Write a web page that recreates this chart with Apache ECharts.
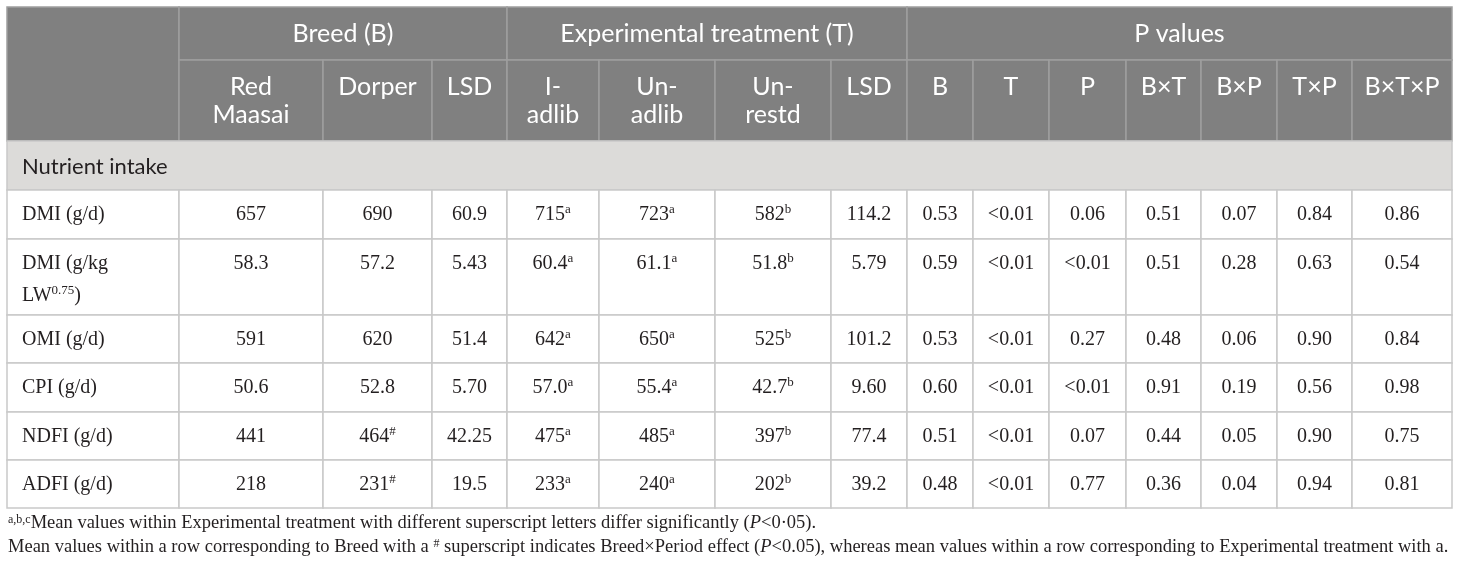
<!DOCTYPE html>
<html>
<head>
<meta charset="utf-8">
<style>
  html, body { margin: 0; padding: 0; background: #fff; }
  #main { width: 1460px; height: 570px; }
</style>
<script src="https://cdn.jsdelivr.net/npm/echarts@6/dist/echarts.min.js"></script>
</head>
<body>
<div id="main"></div>
<script>
// ---- table content ----
var groupHeads = ['Breed (B)', 'Experimental treatment (T)', 'P values']
var subHeads = ['Red\nMaasai', 'Dorper', 'LSD', 'I-\nadlib', 'Un-\nadlib', 'Un-\nrestd', 'LSD',
  'B', 'T', 'P', 'B×T', 'B×P', 'T×P', 'B×T×P']
var sectionName = 'Nutrient intake'
var rowLabels = ['DMI (g/d)', 'DMI (g/kg\nLW{sup|0.75})', 'OMI (g/d)', 'CPI (g/d)', 'NDFI (g/d)', 'ADFI (g/d)']

var redMaasai = ['657', '58.3', '591', '50.6', '441', '218']
var dorper = ['690', '57.2', '620', '52.8', '464', '231']
var dorperMark = ['', '', '', '', '#', '#']
var breedLSD = ['60.9', '5.43', '51.4', '5.70', '42.25', '19.5']

var iAdlib = ['715', '60.4', '642', '57.0', '475', '233']
var iAdlibMark = ['a', 'a', 'a', 'a', 'a', 'a']
var unAdlib = ['723', '61.1', '650', '55.4', '485', '240']
var unAdlibMark = ['a', 'a', 'a', 'a', 'a', 'a']
var unRestd = ['582', '51.8', '525', '42.7', '397', '202']
var unRestdMark = ['b', 'b', 'b', 'b', 'b', 'b']
var trtLSD = ['114.2', '5.79', '101.2', '9.60', '77.4', '39.2']

var pB = ['0.53', '0.59', '0.53', '0.60', '0.51', '0.48']
var pT = ['<0.01', '<0.01', '<0.01', '<0.01', '<0.01', '<0.01']
var pP = ['0.06', '<0.01', '0.27', '<0.01', '0.07', '0.77']
var pBxT = ['0.51', '0.51', '0.48', '0.91', '0.44', '0.36']
var pBxP = ['0.07', '0.28', '0.06', '0.19', '0.05', '0.04']
var pTxP = ['0.84', '0.63', '0.90', '0.56', '0.90', '0.94']
var pBxTxP = ['0.86', '0.54', '0.84', '0.98', '0.75', '0.81']

var footnote1 = '{sup|a,b,c}Mean values within Experimental treatment with different superscript letters differ significantly ({it|P}<0·05).'
var footnote2 = 'Mean values within a row corresponding to Breed with a {sup|#} superscript indicates Breed×Period effect ({it|P}<0.05), whereas mean values within a row corresponding to Experimental treatment with a.'

// ---- layout (column / row edges in page units) ----
var colEdges = [7, 179, 323, 432, 507, 599, 715, 831, 907, 973, 1049, 1126, 1201, 1277, 1352, 1452]
var rowEdges = [7, 60, 141, 190, 239, 315, 363, 412, 460, 508]
var groupSpans = [[1, 4], [4, 8], [8, 15]]

var columns = [
  [redMaasai], [dorper, dorperMark], [breedLSD],
  [iAdlib, iAdlibMark], [unAdlib, unAdlibMark], [unRestd, unRestdMark], [trtLSD],
  [pB], [pT], [pP], [pBxT], [pBxP], [pTxP], [pBxTxP]
]

var styles = {
  head: { fill: '#808080', stroke: '#9e9e9e', color: '#ffffff', family: 'Lato', size: 25, lineHeight: 28, padTop: 13 },
  section: { fill: '#dcdbd9', stroke: '#c9c9c9', color: '#231f20', family: 'Lato', size: 22, lineHeight: 28, padTop: 12 },
  body: { fill: '#ffffff', stroke: '#c9c9c9', color: '#231f20', family: 'Liberation Serif', size: 20, lineHeight: 32, padTop: 9 }
}

// ---- build the cell list ----
var cells = []
cells.push({ c0: 0, c1: 1, r0: 0, r1: 2, text: '', kind: 'head' })
groupSpans.forEach(function (s, i) {
  cells.push({ c0: s[0], c1: s[1], r0: 0, r1: 1, text: groupHeads[i], kind: 'head' })
})
subHeads.forEach(function (t, i) {
  cells.push({ c0: i + 1, c1: i + 2, r0: 1, r1: 2, text: t, kind: 'head' })
})
cells.push({ c0: 0, c1: 15, r0: 2, r1: 3, text: sectionName, kind: 'section', left: true })
rowLabels.forEach(function (label, r) {
  cells.push({ c0: 0, c1: 1, r0: r + 3, r1: r + 4, text: label, kind: 'body', left: true })
  columns.forEach(function (col, c) {
    var mark = col[1] ? col[1][r] : ''
    var text = col[0][r] + (mark ? '{sup|' + mark + '}' : '')
    cells.push({ c0: c + 1, c1: c + 2, r0: r + 3, r1: r + 4, text: text, kind: 'body' })
  })
})

function renderCell(params, api) {
  var cell = cells[params.dataIndex]
  var st = styles[cell.kind]
  var p0 = api.coord([colEdges[api.value(0)], rowEdges[api.value(2)]])
  var p1 = api.coord([colEdges[api.value(1)], rowEdges[api.value(3)]])
  var w = p1[0] - p0[0]
  var h = p1[1] - p0[1]
  return {
    type: 'group',
    children: [
      {
        type: 'rect',
        shape: { x: p0[0], y: p0[1], width: w, height: h },
        style: { fill: st.fill, stroke: st.stroke, lineWidth: 1.5 }
      },
      {
        type: 'text',
        x: cell.left ? p0[0] + 15 : p0[0] + w / 2,
        y: p0[1] + st.padTop,
        style: {
          text: cell.text,
          fill: st.color,
          fontFamily: st.family,
          fontSize: st.size,
          lineHeight: st.lineHeight,
          align: cell.left ? 'left' : 'center',
          verticalAlign: 'top',
          rich: {
            sup: { fontFamily: st.family, fontSize: 13, fill: st.color, verticalAlign: 'top', lineHeight: 14, padding: [4, 0, 0, 0] }
          }
        }
      }
    ]
  }
}

var noteRich = {
  sup: { fontFamily: 'Liberation Serif', fontSize: 12, fill: '#231f20', verticalAlign: 'top', lineHeight: 12 },
  it: { fontFamily: 'Liberation Serif', fontSize: 18.5, fontStyle: 'italic', fill: '#231f20' }
}

var chart = echarts.init(document.getElementById('main'))
chart.setOption({
  animation: false,
  grid: { left: 0, right: 0, top: 0, bottom: 0 },
  xAxis: { type: 'value', min: 0, max: 1460, show: false },
  yAxis: { type: 'value', min: 0, max: 570, inverse: true, show: false },
  series: [
    {
      type: 'custom',
      renderItem: renderCell,
      data: cells.map(function (c) { return [c.c0, c.c1, c.r0, c.r1] })
    }
  ],
  graphic: [
    {
      type: 'text', left: 8, top: 514,
      style: { text: footnote1, fontFamily: 'Liberation Serif', fontSize: 18.5, fill: '#231f20', rich: noteRich }
    },
    {
      type: 'text', left: 8, top: 538,
      style: { text: footnote2, fontFamily: 'Liberation Serif', fontSize: 18.5, fill: '#231f20', rich: noteRich }
    }
  ]
})
</script>
</body>
</html>
